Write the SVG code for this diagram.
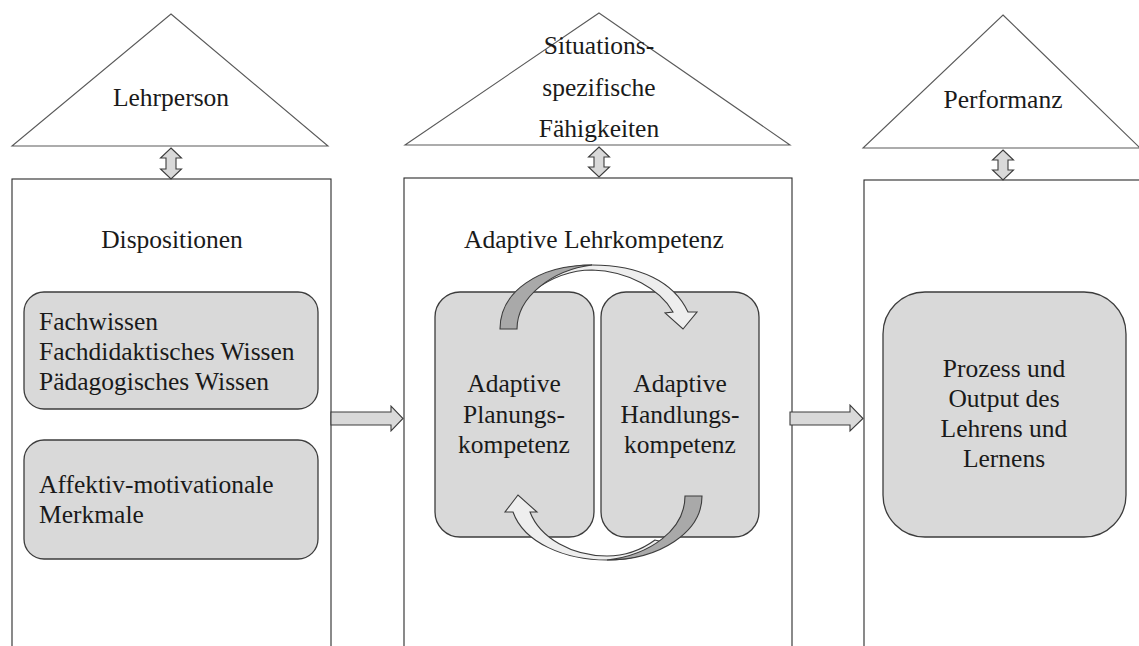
<svg xmlns="http://www.w3.org/2000/svg" width="1139" height="646" viewBox="0 0 1139 646">
  <style>
    .tri { fill: #ffffff; stroke: #5a5a5a; stroke-width: 1.1; }
    .panel { fill: #ffffff; stroke: #2a2a2a; stroke-width: 1.1; }
    .card { fill: #d9d9d9; stroke: #3c3c3c; stroke-width: 1.3; }
    .arrow { fill: #d9d9d9; stroke: #3c3c3c; stroke-width: 1.1; stroke-linejoin: miter; }
    .cycle-back { fill: #a9a9a9; stroke: #3c3c3c; stroke-width: 1.1; }
    .cycle-front { fill: #eeeeee; stroke: #3c3c3c; stroke-width: 1.1; }
    .label { font-family: 'Liberation Serif', 'DejaVu Serif', serif; font-size: 25.5px; fill: #1a1a1a; }
    .c { text-anchor: middle; }
  </style>

  <g class="label" font-family="Liberation Serif, DejaVu Serif, serif">
  <!-- column 1: Lehrperson -->
  <g id="tri-lehrperson">
    <polygon class="tri" points="171,14 328,146 12,146"/>
    <text class="c" x="171" y="106">Lehrperson</text>
  </g>
  <g id="panel-dispositionen">
    <rect class="panel" x="12" y="179" width="319" height="480"/>
    <text class="c" x="172" y="248">Dispositionen</text>
  </g>
  <g id="card-wissen">
    <rect class="card" x="24" y="292" width="294" height="117" rx="20" ry="20"/>
    <text x="39" y="330">Fachwissen</text>
    <text x="39" y="360">Fachdidaktisches Wissen</text>
    <text x="39" y="390">Pädagogisches Wissen</text>
  </g>
  <g id="card-affektiv">
    <rect class="card" x="24" y="440" width="294" height="119" rx="20" ry="20"/>
    <text x="39" y="493">Affektiv-motivationale</text>
    <text x="39" y="523">Merkmale</text>
  </g>

  <!-- column 2: situationsspezifische Fähigkeiten -->
  <g id="tri-situation">
    <polygon class="tri" points="599,13 790,145 405,145"/>
    <text class="c" x="599" y="54">Situations-</text>
    <text class="c" x="599" y="96">spezifische</text>
    <text class="c" x="599" y="137">Fähigkeiten</text>
  </g>
  <g id="panel-adaptiv">
    <rect class="panel" x="404" y="178" width="388" height="480"/>
    <text class="c" x="594" y="248">Adaptive Lehrkompetenz</text>
  </g>
  <g id="card-planung">
    <rect class="card" x="435" y="292" width="159" height="245" rx="25" ry="25"/>
    <text class="c" x="514" y="392">Adaptive</text>
    <text class="c" x="514" y="423">Planungs-</text>
    <text class="c" x="514" y="453">kompetenz</text>
  </g>
  <g id="card-handlung">
    <rect class="card" x="601" y="292" width="158" height="245" rx="25" ry="25"/>
    <text class="c" x="680" y="392">Adaptive</text>
    <text class="c" x="680" y="423">Handlungs-</text>
    <text class="c" x="680" y="453">kompetenz</text>
  </g>

  <!-- column 3: Performanz -->
  <g id="tri-performanz">
    <polygon class="tri" points="1003,15 1140,148 863,148"/>
    <text class="c" x="1003" y="108">Performanz</text>
  </g>
  <g id="panel-output">
    <rect class="panel" x="864" y="180" width="290" height="480"/>
  </g>
  <g id="card-output">
    <rect class="card" x="883" y="292" width="243" height="245" rx="42" ry="42"/>
    <text class="c" x="1004" y="377">Prozess und</text>
    <text class="c" x="1004" y="407">Output des</text>
    <text class="c" x="1004" y="437">Lehrens und</text>
    <text class="c" x="1004" y="467">Lernens</text>
  </g>

  <!-- connectors -->
  <g id="connectors">
    <!-- double arrows between triangle and panel -->
    <polygon class="arrow" points="171,148 181.5,158 176,158 176,169 181.5,169 171,179 160.5,169 166,169 166,158 160.5,158"/>
    <polygon class="arrow" points="599,147 609.5,157 604,157 604,167 609.5,167 599,177 588.5,167 594,167 594,157 588.5,157"/>
    <polygon class="arrow" points="1003,150 1013.5,160 1008,160 1008,170 1013.5,170 1003,180 992.5,170 998,170 998,160 992.5,160"/>

    <!-- block arrows between panels -->
    <polygon class="arrow" points="331,412 391,412 391,406 403,418.5 391,431 391,425 331,425"/>
    <polygon class="arrow" points="790,412 850,412 850,405 863,418.5 850,431 850,425 790,425"/>

    <!-- cycle: planning to acting (top) -->
    <path class="cycle-front" d="M533,291 C552,277 572,270 592,270 C628,271 660,289 673,312 L665,313 L683,329 L697,312 L688,312 C674,282 640,265 592,265 C566,265 545,273 530,283 Z"/>
    <path class="cycle-back" d="M500,329 C500,292 538,265 592,265 C552,270 517,297 517,329 Z"/>

    <!-- cycle: acting back to planning (bottom) -->
    <path class="cycle-front" d="M655,540 C640,551 624,556 607,556 C572,556 540,538 530,512 L537,512 L518,495 L505,512 L513,512 C524,543 565,560 607,560 C632,560 652,553 667,543 Z"/>
    <path class="cycle-back" d="M702,496 C702,532 660,560 607,560 C650,555 685,530 685,496 Z"/>
  </g>
  </g>
</svg>
